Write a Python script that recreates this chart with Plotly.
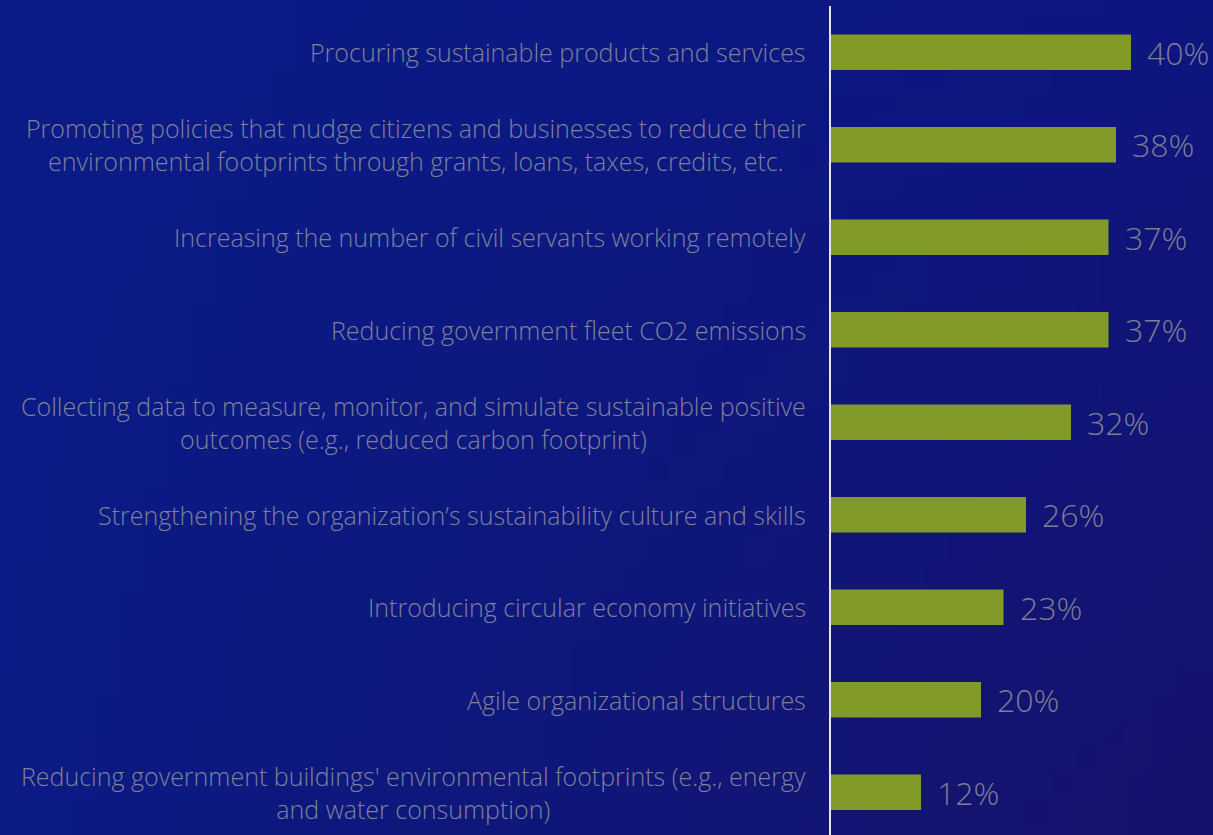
import base64, struct, zlib
import numpy as np
import plotly.graph_objects as go

categories = [
    "Procuring sustainable products and services",
    "Promoting policies that nudge citizens and businesses to reduce their<br>environmental footprints through grants, loans, taxes, credits, etc.",
    "Increasing the number of civil servants working remotely",
    "Reducing government fleet CO2 emissions",
    "Collecting data to measure, monitor, and simulate sustainable positive<br>outcomes (e.g., reduced carbon footprint)",
    "Strengthening the organization’s sustainability culture and skills",
    "Introducing circular economy initiatives",
    "Agile organizational structures",
    "Reducing government buildings' environmental footprints (e.g., energy<br>and water consumption)",
]
values = [40, 38, 37, 37, 32, 26, 23, 20, 12]
value_labels = ["40%", "38%", "37%", "37%", "32%", "26%", "23%", "20%", "12%"]

W, H = 1213, 835
ML, MT = 831, 6
PW, PH = W - ML, H - MT
PX_PER_UNIT = 7.5
ROW = 92.5

# background gradient image (styling only)
def gradient_png(w, h, tl, tr, bl, br):
    tl, tr, bl, br = [np.array(c, float) for c in (tl, tr, bl, br)]
    rows = []
    for j in range(h):
        v = j / (h - 1)
        row = bytearray([0])
        for i in range(w):
            u = i / (w - 1)
            c = (1 - u) * (1 - v) * tl + u * (1 - v) * tr + (1 - u) * v * bl + u * v * br
            row += bytes(int(round(x)) for x in c)
        rows.append(bytes(row))
    raw = b"".join(rows)
    def chunk(t, d):
        return struct.pack(">I", len(d)) + t + d + struct.pack(">I", zlib.crc32(t + d) & 0xffffffff)
    png = b"\x89PNG\r\n\x1a\n" + chunk(b"IHDR", struct.pack(">IIBBBBB", w, h, 8, 2, 0, 0, 0)) \
        + chunk(b"IDAT", zlib.compress(raw, 9)) + chunk(b"IEND", b"")
    return "data:image/png;base64," + base64.b64encode(png).decode()

bg = gradient_png(48, 32, (10, 27, 136), (14, 21, 128), (11, 26, 133), (21, 18, 108))

fig = go.Figure(go.Bar(
    x=values, y=categories, orientation="h",
    marker=dict(color="#829a27", line=dict(width=0)),
    width=0.385, hoverinfo="skip",
))

annotations = []
for c, v, lab in zip(categories, values, value_labels):
    annotations.append(dict(x=0, y=c, xref="x", yref="y", text=c, showarrow=False,
                            xanchor="right", yanchor="middle", align="center", xshift=-23,
                            font=dict(family="Open Sans", size=25, weight=300, color="#7e8198")))
    annotations.append(dict(x=v, y=c, xref="x", yref="y", text=lab, showarrow=False,
                            xanchor="left", yanchor="middle", xshift=14,
                            font=dict(family="Open Sans", size=32, weight=300, color="#7b7e92")))

fig.update_layout(
    width=W, height=H,
    margin=dict(l=ML, r=0, t=MT, b=0, pad=0),
    paper_bgcolor="#0c1a84", plot_bgcolor="rgba(0,0,0,0)",
    showlegend=False,
    xaxis=dict(range=[0, PW / PX_PER_UNIT], visible=False, fixedrange=True),
    yaxis=dict(type="category", categoryorder="array", categoryarray=categories,
               range=[PH / ROW - 0.5, -0.5], showticklabels=False, showgrid=False,
               zeroline=False, showline=True, linecolor="#e4e4ea", linewidth=2,
               ticks="", fixedrange=True),
    annotations=annotations,
    images=[dict(source=bg, xref="paper", yref="paper", x=-ML / PW, y=H / PH,
                 sizex=W / PW, sizey=H / PH, sizing="stretch", xanchor="left",
                 yanchor="top", layer="below")],
)

fig.write_html("out.html", config={"displayModeBar": False},
               post_script="document.body.style.margin='0';document.body.style.overflow='hidden';")
